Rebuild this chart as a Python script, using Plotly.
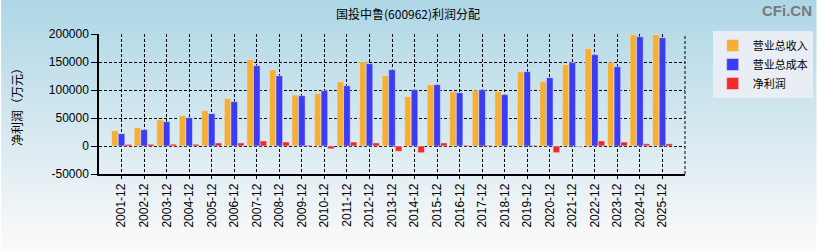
import plotly.graph_objects as go

categories = ["2001-12","2002-12","2003-12","2004-12","2005-12","2006-12","2007-12","2008-12",
              "2009-12","2010-12","2011-12","2012-12","2013-12","2014-12","2015-12","2016-12",
              "2017-12","2018-12","2019-12","2020-12","2021-12","2022-12","2023-12","2024-12","2025-12"]
revenue = [27400, 32700, 47000, 54200, 63100, 84500, 154200, 136300, 91000, 93500, 114900, 150600,
           125600, 88100, 109500, 97000, 98800, 97000, 132700, 114900, 145200, 173800, 148800, 198800, 198800]
cost = [22000, 29200, 43500, 50600, 57700, 79200, 143500, 125600, 89900, 98800, 107700, 147000,
        136300, 100600, 109500, 95200, 100600, 91700, 132700, 122000, 148800, 163100, 141700, 195200, 193500]
profit = [3000, 3200, 3200, 3200, 5500, 5500, 9000, 7200, 1500, -5000, 7200, 5500,
          -9500, -12000, 5500, 1500, 1500, 1300, 1500, -12000, -1200, 9000, 7200, 4000, 4000]
series_names = ["营业总收入", "营业总成本", "净利润"]
yticks = [-50000, 0, 50000, 100000, 150000, 200000]
ytick_labels = ["-50000", "0", "50000", "100000", "150000", "200000"]

W, H = 825, 250
L, R, T, B = 99, 133, 34, 76
pw, ph = W - L - R, H - T - B

def px(x):
    return (x - L) / pw

def py(y):
    return (H - B - y) / ph

fig = go.Figure()
fig.add_trace(go.Bar(x=categories, y=revenue, name=series_names[0], marker_color="#F7AE35"))
fig.add_trace(go.Bar(x=categories, y=cost, name=series_names[1], marker_color="#3C3CF2"))
fig.add_trace(go.Bar(x=categories, y=profit, name=series_names[2], marker_color="#F22A2A"))

shapes = []
n = 125
for i in range(n):
    t = i / (n - 1)
    r = int(174 + (252 - 174) * t)
    g = int(215 + (250 - 215) * t)
    b = int(230 + (250 - 230) * t)
    y0 = i * H / n
    y1 = (i + 1) * H / n + 0.5
    shapes.append(dict(type="rect", xref="paper", yref="paper", x0=px(0), x1=px(W),
                       y0=py(y1), y1=py(y0), fillcolor=f"rgb({r},{g},{b})",
                       line=dict(width=0), layer="below"))
# right dashed border
shapes.append(dict(type="line", xref="paper", yref="paper", x0=1, x1=1, y0=0, y1=1,
                   line=dict(color="black", width=1, dash="3px,2px"), layer="above"))

fig.update_layout(
    width=W, height=H,
    margin=dict(l=L, r=R, t=T, b=B),
    paper_bgcolor="rgba(0,0,0,0)", plot_bgcolor="rgba(0,0,0,0)",
    barmode="group", bargap=0.12, bargroupgap=0,
    font=dict(family="Liberation Sans, Noto Sans CJK SC", size=12, color="black"),
    shapes=shapes,
    showlegend=True,
    legend=dict(x=px(720), y=py(31), xanchor="left", yanchor="top",
                bgcolor="#e8eef4", borderwidth=0,
                font=dict(family="Noto Sans CJK SC", size=11, color="black"),
                tracegroupgap=0, itemwidth=30),
    xaxis=dict(type="category", range=[-1, 25], showgrid=True, gridcolor="black", gridwidth=1,
               griddash="3px,2px", showline=True, linecolor="black", linewidth=1.5,
               ticks="outside", ticklen=3, tickcolor="black", tickangle=-90,
               tickfont=dict(family="Liberation Sans", size=12)),
    yaxis=dict(range=[-50000, 200000], tickvals=yticks, ticktext=ytick_labels, showgrid=True,
               gridcolor="black", gridwidth=1, griddash="3px,2px", zeroline=False, showline=True,
               linecolor="black", linewidth=1.5, ticks="outside", ticklen=6, tickcolor="black",
               tickfont=dict(family="Liberation Sans", size=12)),
    annotations=[
        dict(text="国投中鲁(600962)利润分配", xref="paper", yref="paper", x=px(412), y=py(13),
             xanchor="center", yanchor="middle", showarrow=False,
             font=dict(family="Noto Sans CJK SC", size=12, color="black")),
        dict(text="<b>CFi.CN</b>", xref="paper", yref="paper", x=px(823), y=py(11),
             xanchor="right", yanchor="middle", showarrow=False,
             font=dict(family="Liberation Sans", size=15, color="#7a7a7a")),
        dict(text="净利润（万元）", xref="paper", yref="paper", x=px(15), y=py(104),
             xanchor="center", yanchor="middle", showarrow=False, textangle=-90,
             font=dict(family="Noto Sans CJK SC", size=12, color="black")),
    ],
)

fig.write_html("out.html")
